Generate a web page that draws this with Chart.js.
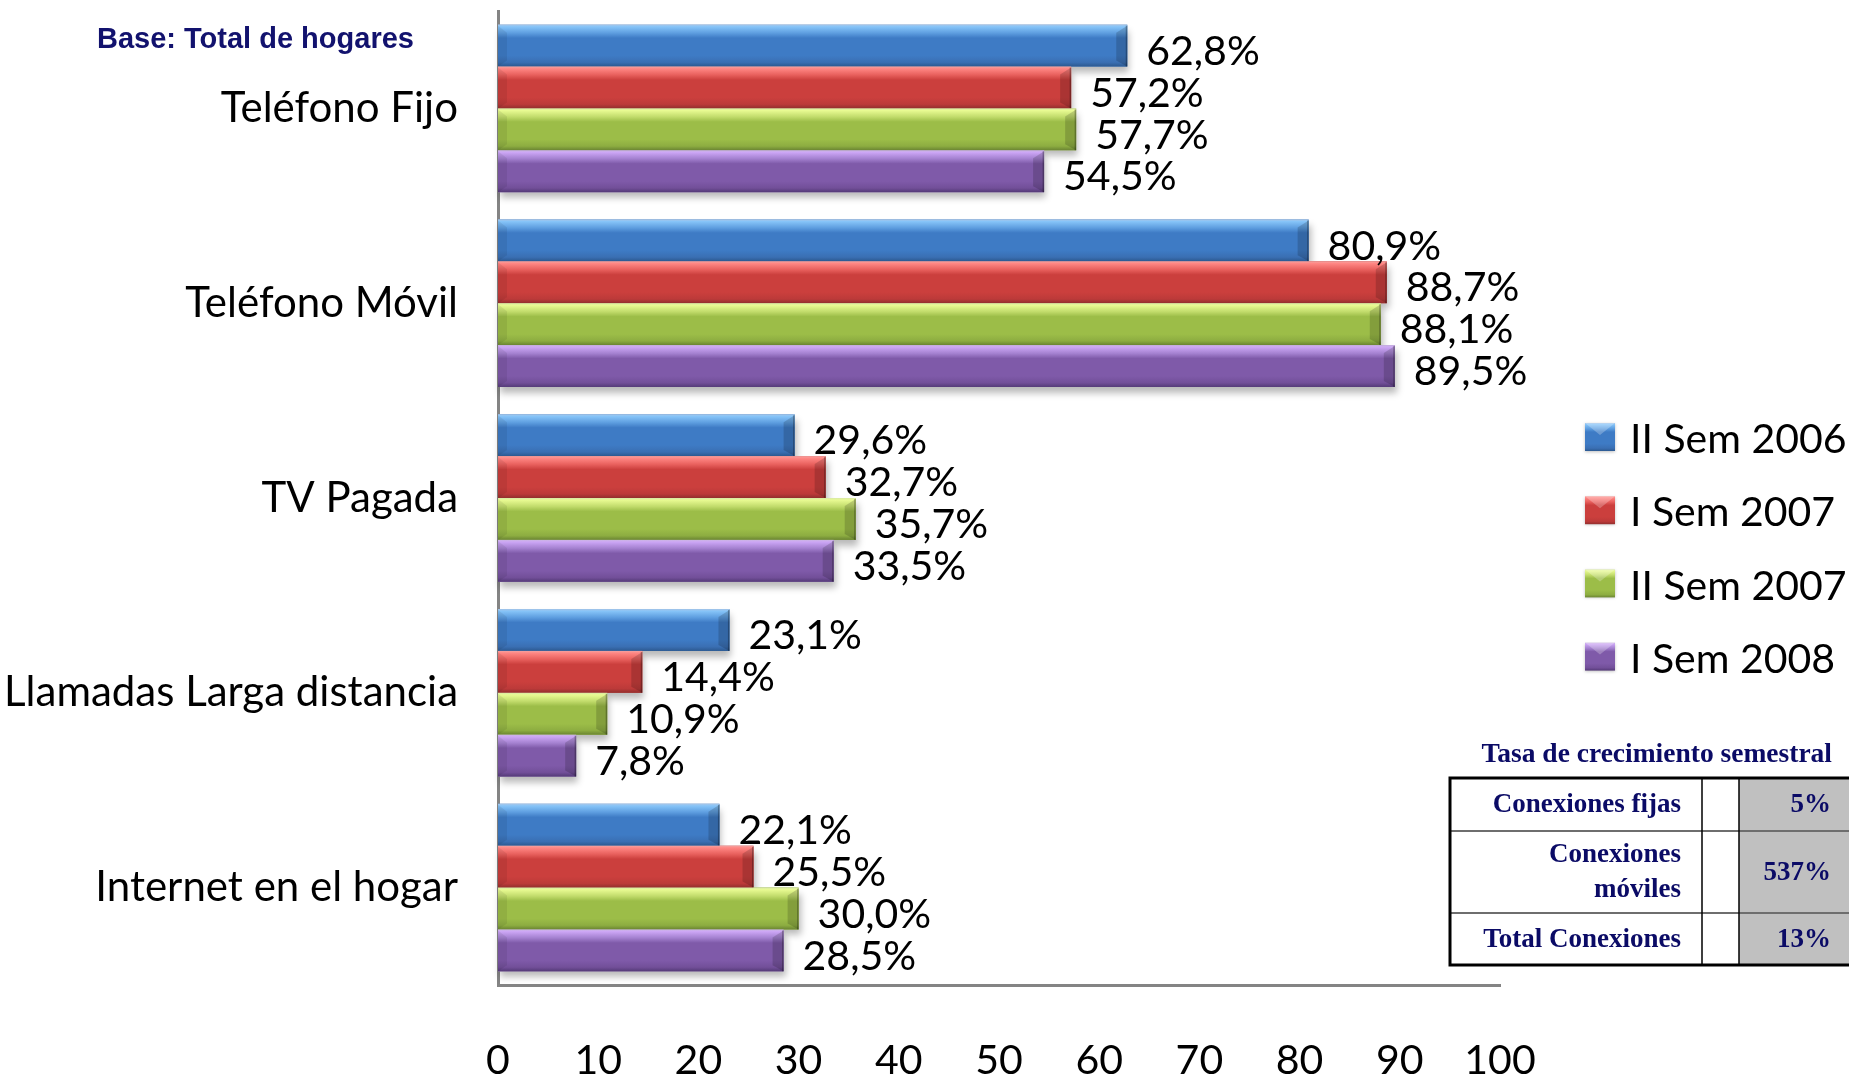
<!DOCTYPE html>
<html>
<head>
<meta charset="utf-8">
<script src="https://cdn.jsdelivr.net/npm/chart.js@4.4.1/dist/chart.umd.min.js"></script>
<style>
  html, body { margin: 0; padding: 0; background: #ffffff; overflow: hidden; }
  canvas { display: block; }
</style>
</head>
<body>
<canvas id="chart" width="1849" height="1080"></canvas>
<script>
// ---- Data ----
const categories = ['Teléfono Fijo', 'Teléfono Móvil', 'TV Pagada', 'Llamadas Larga distancia', 'Internet en el hogar'];
const seriesNames = ['II Sem 2006', 'I Sem 2007', 'II Sem 2007', 'I Sem 2008'];
const sem2006II = [62.8, 80.9, 29.6, 23.1, 22.1];
const sem2007I  = [57.2, 88.7, 32.7, 14.4, 25.5];
const sem2007II = [57.7, 88.1, 35.7, 10.9, 30.0];
const sem2008I  = [54.5, 89.5, 33.5, 7.8, 28.5];
const xTicks = [0, 10, 20, 30, 40, 50, 60, 70, 80, 90, 100];

const baseNote = 'Base: Total de hogares';
const tableTitle = 'Tasa de crecimiento semestral';
const tableLabels = [['Conexiones fijas'], ['Conexiones', 'móviles'], ['Total Conexiones']];
const tableValues = ['5%', '537%', '13%'];

// ---- Styles ----
const shades = [
  { edge: '#a7c6e8', hi: '#86c4f8', hi2: '#5e9ee0', mid: '#3e7bc5', low: '#3a6fb3', dark: '#2c5990' },
  { edge: '#f2a3a1', hi: '#ff8784', hi2: '#e8605d', mid: '#cb3f3d', low: '#bc3a39', dark: '#922f2e' },
  { edge: '#d9e8a6', hi: '#e8fa92', hi2: '#c2dc6c', mid: '#9cbd48', low: '#8dad41', dark: '#6a8432' },
  { edge: '#cbb6e2', hi: '#cca6f5', hi2: '#a481d0', mid: '#7f5aa9', low: '#724f99', dark: '#543a77' }
];
const fontFamily = 'Lato, "Open Sans", sans-serif';
const bigFont = { family: fontFamily, size: 41 };

function barGradient(ctx, s, top, bottom) {
  const g = ctx.createLinearGradient(0, top, 0, bottom);
  g.addColorStop(0, s.edge);
  g.addColorStop(0.05, s.hi);
  g.addColorStop(0.2, s.hi2);
  g.addColorStop(0.32, s.mid);
  g.addColorStop(0.74, s.mid);
  g.addColorStop(0.9, s.low);
  g.addColorStop(1, s.dark);
  return g;
}

function formatPct(v) {
  return v.toFixed(1).replace('.', ',') + '%';
}

// Soft drop shadow under every bar
const barShadow = {
  id: 'barShadow',
  beforeDatasetsDraw(chart) {
    const ctx = chart.ctx;
    ctx.save();
    chart.data.datasets.forEach((ds, di) => {
      chart.getDatasetMeta(di).data.forEach(el => {
        const { x, y, base, height } = el.getProps(['x', 'y', 'base', 'height'], true);
        ctx.shadowColor = 'rgba(0,0,0,0.28)';
        ctx.shadowBlur = 7;
        ctx.shadowOffsetX = 2;
        ctx.shadowOffsetY = 6;
        ctx.fillStyle = '#cfcfcf';
        ctx.fillRect(base, y - height / 2, x - base, height);
      });
    });
    ctx.restore();
  }
};

// Glossy bevel shading and value labels
const barBevel = {
  id: 'barBevel',
  afterDatasetsDraw(chart) {
    const ctx = chart.ctx;
    ctx.save();
    chart.data.datasets.forEach((ds, di) => {
      const s = shades[di];
      chart.getDatasetMeta(di).data.forEach(el => {
        const { x, y, base, height } = el.getProps(['x', 'y', 'base', 'height'], true);
        const top = y - height / 2, bottom = y + height / 2;
        const left = base, right = x;
        ctx.fillStyle = barGradient(ctx, s, top, bottom);
        ctx.fillRect(left, top, right - left, height);
        // right end bevel
        const bw = Math.min(11, (right - left) / 3);
        ctx.beginPath();
        ctx.moveTo(right - bw, top + 8);
        ctx.lineTo(right, top + 1);
        ctx.lineTo(right, bottom);
        ctx.lineTo(right - bw, bottom - 6);
        ctx.closePath();
        ctx.fillStyle = 'rgba(0,0,0,0.16)';
        ctx.fill();
        ctx.fillStyle = 'rgba(0,0,0,0.28)';
        ctx.fillRect(right - 1.5, top + 1, 1.5, height - 1);
        // left end bevel
        ctx.beginPath();
        ctx.moveTo(left, top + 1);
        ctx.lineTo(left + 9, top + 8);
        ctx.lineTo(left + 9, bottom - 6);
        ctx.lineTo(left, bottom);
        ctx.closePath();
        ctx.fillStyle = 'rgba(0,0,0,0.07)';
        ctx.fill();
      });
    });
    // value labels
    ctx.font = '41px ' + fontFamily;
    ctx.fillStyle = '#000000';
    ctx.textAlign = 'left';
    ctx.textBaseline = 'middle';
    chart.data.datasets.forEach((ds, di) => {
      chart.getDatasetMeta(di).data.forEach((el, i) => {
        const { x, y } = el.getProps(['x', 'y'], true);
        ctx.fillText(formatPct(ds.data[i]), x + 19, y + 6);
      });
    });
    ctx.restore();
  }
};

// Legend, note and growth table
const annotations = {
  id: 'annotations',
  afterDraw(chart) {
    const ctx = chart.ctx;
    ctx.save();

    // legend
    chart.data.datasets.forEach((ds, i) => {
      const cy = 437 + i * 73.2;
      const sx = 1585, sw = 30, sh = 28;
      ctx.shadowColor = 'rgba(0,0,0,0.25)';
      ctx.shadowBlur = 3;
      ctx.shadowOffsetY = 1;
      ctx.fillStyle = barGradient(ctx, shades[i], cy - sh / 2, cy + sh / 2);
      ctx.fillRect(sx, cy - sh / 2, sw, sh);
      ctx.shadowColor = 'transparent';
      ctx.beginPath();
      ctx.moveTo(sx, cy - sh / 2);
      ctx.lineTo(sx + sw / 2, cy - 2);
      ctx.lineTo(sx + sw, cy - sh / 2);
      ctx.closePath();
      ctx.fillStyle = 'rgba(255,255,255,0.25)';
      ctx.fill();
      ctx.font = '41px ' + fontFamily;
      ctx.fillStyle = '#000000';
      ctx.textAlign = 'left';
      ctx.textBaseline = 'middle';
      ctx.fillText(ds.label, 1630, cy + 3);
    });

    // base note
    ctx.font = 'bold 29px "Liberation Sans", Arial, sans-serif';
    ctx.fillStyle = '#12126e';
    ctx.textAlign = 'left';
    ctx.textBaseline = 'middle';
    ctx.fillText(baseNote, 97, 40);

    // growth table
    const navy = '#0b0b66';
    const tl = 1450, tr = 1851, c1 = 1702, c2 = 1739;
    const rows = [778, 831, 913, 965];
    ctx.fillStyle = '#c0c0c0';
    ctx.fillRect(c2, rows[0], tr - c2, rows[3] - rows[0]);
    ctx.strokeStyle = '#6e6e6e';
    ctx.lineWidth = 2;
    ctx.beginPath();
    ctx.moveTo(tl, rows[1]); ctx.lineTo(tr, rows[1]);
    ctx.moveTo(tl, rows[2]); ctx.lineTo(tr, rows[2]);
    ctx.stroke();
    ctx.strokeStyle = '#000000';
    ctx.lineWidth = 1.5;
    ctx.beginPath();
    ctx.moveTo(c1, rows[0]); ctx.lineTo(c1, rows[3]);
    ctx.moveTo(c2, rows[0]); ctx.lineTo(c2, rows[3]);
    ctx.stroke();
    ctx.lineWidth = 3;
    ctx.strokeRect(tl, rows[0], tr - tl, rows[3] - rows[0]);

    ctx.fillStyle = navy;
    ctx.textAlign = 'right';
    ctx.textBaseline = 'middle';
    ctx.font = 'bold 27.5px "Liberation Serif", "Times New Roman", serif';
    ctx.fillText(tableTitle, 1832, 755);
    ctx.font = 'bold 27px "Liberation Serif", "Times New Roman", serif';
    tableLabels.forEach((lines, r) => {
      const mid = (rows[r] + rows[r + 1]) / 2 + 1;
      const lh = 35;
      lines.forEach((line, k) => {
        ctx.fillText(line, 1681, mid + (k - (lines.length - 1) / 2) * lh);
      });
      ctx.fillText(tableValues[r], 1831, mid);
    });

    ctx.restore();
  }
};

const seriesData = [sem2006II, sem2007I, sem2007II, sem2008I];

function build() {
  new Chart(document.getElementById('chart'), {
    type: 'bar',
    data: {
      labels: categories,
      datasets: seriesNames.map((name, i) => ({
        label: name,
        data: seriesData[i],
        backgroundColor: shades[i].mid,
        borderWidth: 0
      }))
    },
    options: {
      indexAxis: 'y',
      responsive: false,
      animation: false,
      layout: { padding: { top: 11, right: 349, left: 0, bottom: 0 } },
      datasets: { bar: { categoryPercentage: 0.86, barPercentage: 1.0 } },
      plugins: { legend: { display: false }, tooltip: { enabled: false } },
      scales: {
        x: {
          min: 0,
          max: 100,
          afterBuildTicks(scale) { scale.ticks = xTicks.map(v => ({ value: v })); },
          grid: { display: false, drawTicks: false },
          border: { display: true, color: '#848484', width: 3 },
          ticks: { font: bigFont, color: '#000000', padding: 51, autoSkip: false, maxRotation: 0 },
          afterFit(scale) { scale.height = 95; }
        },
        y: {
          grid: { display: false, drawTicks: false },
          border: { display: true, color: '#848484', width: 3 },
          ticks: { font: { family: fontFamily, size: 42 }, color: '#000000', padding: 40, autoSkip: false },
          afterFit(scale) {
            scale.width = 498;
            scale.paddingTop = 0;
            scale.paddingBottom = 0;
          }
        }
      }
    },
    plugins: [barShadow, barBevel, annotations]
  });
}

Promise.all([
  document.fonts.load('41px Lato'),
  document.fonts.load('bold 28px "Liberation Sans"'),
  document.fonts.load('bold 26px "Liberation Serif"')
]).then(build, build);
</script>
</body>
</html>
